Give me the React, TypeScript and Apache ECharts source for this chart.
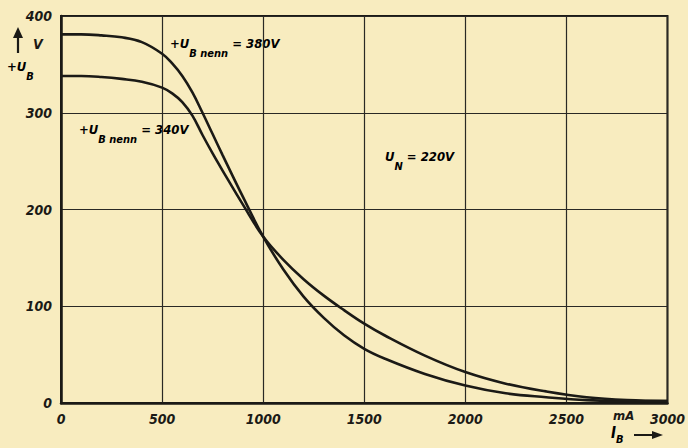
import React, { useEffect, useRef } from "react";
import * as echarts from "echarts";

const currentMA = [0, 100, 200, 300, 400, 500, 550, 600, 650, 700, 750, 800, 900, 1000, 1100, 1200, 1300, 1400, 1500, 1600, 1800, 2000, 2200, 2400, 2600, 2800, 3000];
const u380 = [381, 381, 380, 378, 373, 361, 351, 338, 321, 300, 278, 256, 213, 172, 138, 110, 88, 70, 56, 46, 30, 18, 10, 6, 3, 2, 2];
const u340 = [338, 338, 337, 335, 332, 326, 320, 311, 297, 277, 258, 240, 205, 172, 148, 128, 111, 96, 82, 70, 49, 32, 20, 12, 6, 3, 2];
const xTicks = ["0", "500", "1000", "1500", "2000", "2500", "3000"];
const yTicks = ["0", "100", "200", "300", "400"];

const FONT = "'DejaVu Sans Condensed', 'DejaVu Sans', sans-serif";
const INK = "#1b1a16";
const BG = "#f8ecbf";

const rich = {
  m: { fontFamily: FONT, fontStyle: "italic", fontWeight: "bold", fontSize: 13, color: INK, lineHeight: 14, verticalAlign: "top" },
  s: { fontFamily: FONT, fontStyle: "italic", fontWeight: "bold", fontSize: 11, color: INK, lineHeight: 22, verticalAlign: "bottom" },
};

export default function App() {
  const ref = useRef<HTMLDivElement>(null);
  useEffect(() => {
    document.body.style.margin = "0";
    const chart = echarts.init(ref.current!, null, { renderer: "svg" });
    const seriesBase = {
      type: "line",
      smooth: 0.4,
      showSymbol: false,
      lineStyle: { color: INK, width: 2.6 },
    };
    chart.setOption({
      animation: false,
      backgroundColor: BG,
      grid: { left: 61, right: 16, top: 16, bottom: 45, show: true, borderColor: INK, borderWidth: 2, backgroundColor: "transparent" },
      xAxis: {
        type: "value",
        min: 0,
        max: 3000,
        interval: 500,
        axisLine: { show: true, lineStyle: { color: INK, width: 2.5 } },
        axisTick: { show: false },
        splitLine: { show: true, lineStyle: { color: "#2a2925", width: 1.2 } },
        axisLabel: {
          margin: 9,
          fontFamily: FONT,
          fontStyle: "italic",
          fontWeight: "bold",
          fontSize: 14,
          color: INK,
          formatter: (v: number) => xTicks[Math.round(v / 500)] ?? "",
        },
      },
      yAxis: {
        type: "value",
        min: 0,
        max: 400,
        interval: 100,
        axisLine: { show: true, lineStyle: { color: INK, width: 2.5 } },
        axisTick: { show: false },
        splitLine: { show: true, lineStyle: { color: "#2a2925", width: 1.2 } },
        axisLabel: {
          margin: 9,
          fontFamily: FONT,
          fontStyle: "italic",
          fontWeight: "bold",
          fontSize: 14,
          color: INK,
          formatter: (v: number) => yTicks[Math.round(v / 100)] ?? "",
        },
      },
      series: [
        { ...seriesBase, name: "380V", data: currentMA.map((x, i) => [x, u380[i]]) },
        { ...seriesBase, name: "340V", data: currentMA.map((x, i) => [x, u340[i]]) },
      ],
      graphic: [
        { type: "text", left: 170, top: 37, style: { text: "{m|+U}{s|B nenn}{m| = 380V}", rich } },
        { type: "text", left: 79, top: 123, style: { text: "{m|+U}{s|B nenn}{m| = 340V}", rich } },
        { type: "text", left: 385, top: 150, style: { text: "{m|U}{s|N}{m| = 220V}", rich } },
        { type: "text", left: 33, top: 37, style: { text: "V", fontFamily: FONT, fontStyle: "italic", fontWeight: "bold", fontSize: 14, fill: INK } },
        { type: "text", left: 7, top: 60, style: { text: "{m|+U}{s|B}", rich } },
        { type: "line", shape: { x1: 18, y1: 36, x2: 18, y2: 53 }, style: { stroke: INK, lineWidth: 2.2 } },
        { type: "polygon", shape: { points: [[13, 38], [23, 38], [18, 27]] }, style: { fill: INK } },
        { type: "text", left: 613, top: 409, style: { text: "mA", fontFamily: FONT, fontStyle: "italic", fontWeight: "bold", fontSize: 13, fill: INK } },
        { type: "text", left: 611, top: 425, style: { text: "{m|I}{s|B}", rich: { m: { ...rich.m, fontSize: 15, lineHeight: 15 }, s: { ...rich.s, lineHeight: 20 } } } },
        { type: "line", shape: { x1: 634, y1: 435, x2: 655, y2: 435 }, style: { stroke: INK, lineWidth: 2 } },
        { type: "polygon", shape: { points: [[652, 431], [652, 439], [663, 435]] }, style: { fill: INK } },
      ],
    });
    return () => chart.dispose();
  }, []);
  return <div ref={ref} style={{ position: "fixed", left: 0, top: 0, width: 688, height: 448 }} />;
}
